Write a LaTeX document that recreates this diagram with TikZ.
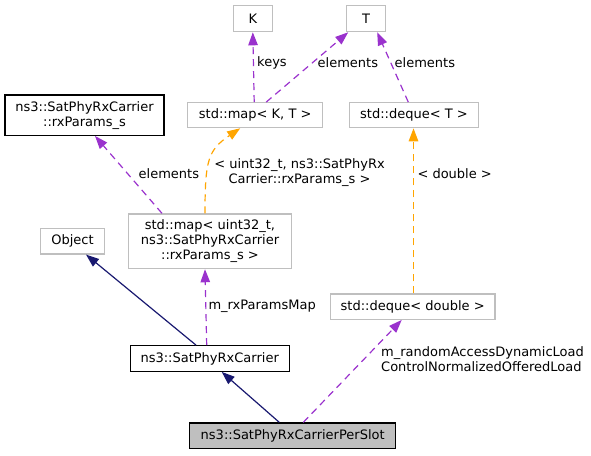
\documentclass[tikz,border=0pt]{standalone}
\usepackage{fontspec}
\setmainfont{DejaVu Sans}
\usetikzlibrary{arrows.meta}
\definecolor{memberpurple}{HTML}{9A32CD}
\definecolor{tmplorange}{HTML}{FFA500}
\definecolor{basenavy}{HTML}{191970}
\definecolor{boxgrey}{HTML}{BFBFBF}

\begin{document}
\begin{tikzpicture}
        [x=1pt,y=-1pt,
        every node/.style={inner sep=0pt,align=center,font=\fontsize{13}{15}\selectfont},
        cls/.style={draw=boxgrey,line width=1.2pt},
        doc/.style={draw=black,line width=1.2pt},
        member/.style={memberpurple,line width=1.2pt,dash pattern=on 7pt off 5pt,-{Triangle[length=13pt,width=9.5pt]}},
        tmpl/.style={tmplorange,line width=1.2pt,dash pattern=on 7pt off 5pt,-{Triangle[length=13pt,width=9.5pt]}},
        base/.style={basenavy,line width=1.2pt,-{Triangle[length=13pt,width=9.5pt]}}]
        \useasboundingbox (0,0) rectangle (591,455);

        \node[cls,minimum width=39,minimum height=26] (K) at (252.8,18.7) {K};
        \node[cls,minimum width=39,minimum height=26] (T) at (366.2,18.7) {T};
        \node[cls,minimum width=135,minimum height=25] (mapKT) at (255.2,115.2) {std::map< K, T >};
        \node[cls,minimum width=128.6,minimum height=25] (dequeT) at (414,115.2) {std::deque< T >};
        \node[doc,minimum width=159,minimum height=40.3] (rxparams) at (84.5,115.2) {ns3::SatPhyRxCarrier\\::rxParams\_s};
        \node[cls,minimum width=162.6,minimum height=54.7] (mapuint) at (210,241.3) {std::map< uint32\_t,\\ ns3::SatPhyRxCarrier\\::rxParams\_s >};
        \node[cls,minimum width=64.4,minimum height=25.3] (object) at (72.5,241.3) {Object};
        \node[cls,minimum width=164.7,minimum height=25.3] (dequedbl) at (412.7,306.7) {std::deque< double >};
        \node[doc,minimum width=159,minimum height=25.6] (carrier) at (209.7,358.5) {ns3::SatPhyRxCarrier};
        \node[doc,fill=boxgrey,minimum width=206,minimum height=25.7] (perslot) at (292.7,435.8) {ns3::SatPhyRxCarrierPerSlot};

        \draw[member] ([xshift=-1]mapKT.north) -- (K.south);
        \draw[member] ([xshift=11]mapKT.north) -- ([xshift=-18]T.south);
        \draw[member] ([xshift=-5.7]dequeT.north) -- ([xshift=11]T.south);
        \draw[tmpl] ([xshift=-5]mapuint.north) .. controls (205,160) and (208,150) .. ([xshift=-15]mapKT.south);
        \draw[member] ([xshift=-48]mapuint.north) -- ([xshift=10.5]rxparams.south);
        \draw[tmpl] ([xshift=0.8]dequedbl.north) -- ([xshift=-0.5]dequeT.south);
        \draw[member] ([xshift=-3]carrier.north) -- ([xshift=-5]mapuint.south);
        \draw[base] ([xshift=-13.7]carrier.north) -- ([xshift=13.5]object.south);
        \draw[base] ([xshift=-13.4]perslot.north) -- ([xshift=12]carrier.south);
        \draw[member] ([xshift=10.6]perslot.north) -- ([xshift=-11]dequedbl.south);

        \node[anchor=west] (keys) at (257,62.7) {keys};
        \node[anchor=west] (elemmap) at (317.5,62.7) {elements};
        \node[anchor=west] (elemdeque) at (394.5,62.7) {elements};
        \node[anchor=west] (elemrx) at (138.5,173.7) {elements};
        \node (argsmap) at (299.5,173) {< uint32\_t, ns3::SatPhyRx\\Carrier::rxParams\_s >};
        \node[anchor=west] (argsdeque) at (417.3,173.7) {< double >};
        \node[anchor=west] (rxmap) at (208.3,306.7) {m\_rxParamsMap};
        \node[anchor=west,align=left] (loadmap) at (381,359) {m\_randomAccessDynamicLoad\\ControlNormalizedOfferedLoad};
    \end{tikzpicture}
\end{document}
